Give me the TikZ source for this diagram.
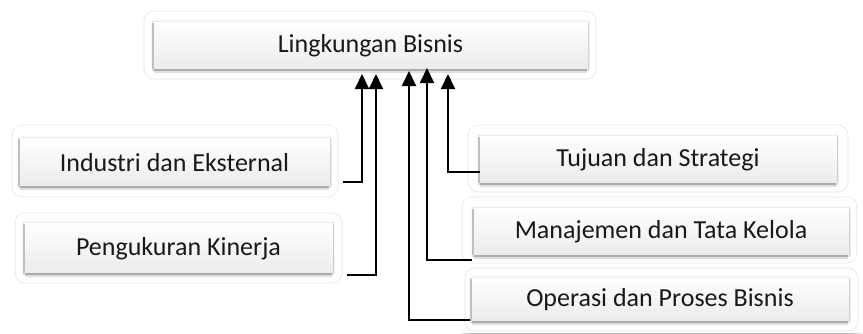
\documentclass[tikz,border=0pt]{standalone}
\usepackage{fontspec}
\setmainfont{Carlito}
\usetikzlibrary{arrows.meta,backgrounds}
\newcommand\glowbox[1]{%
  \foreach \k in {1,2,...,6}{%
    \fill[black,opacity=0.05,rounded corners=12pt]
      ([shift={({-\k*1pt},{\k*1pt-1pt})}]#1.north west) rectangle
      ([shift={({\k*1pt},{-\k*1pt-3pt})}]#1.south east);}}
\newcommand\bevel[1]{%
  \draw[gray!65,line width=2.2pt] ([shift={(2pt,1pt)}]#1.south west) -- ([shift={(-2pt,1pt)}]#1.south east);
  \draw[gray!25,line width=2pt] ([shift={(2pt,-1pt)}]#1.south west) -- ([shift={(-2pt,-1pt)}]#1.south east);
  \draw[gray!50,line width=1.8pt] ([shift={(0.9pt,2pt)}]#1.south west) -- ([shift={(0.9pt,-2pt)}]#1.north west);
  \draw[gray!35,line width=1.2pt] ([shift={(-0.6pt,2pt)}]#1.south east) -- ([shift={(-0.6pt,-2pt)}]#1.north east);}
\begin{document}
\begin{tikzpicture}[x=1pt,y=-1pt,
  outerbox/.style={draw=gray!20,line width=0.6pt,fill=white,rounded corners=10pt,inner sep=0pt},
  innerbox/.style={top color=white,bottom color=gray!16,draw=gray!35,line width=0.5pt,
    rounded corners=2pt,inner sep=0pt,font=\fontsize{26}{30}\selectfont,text=black!90},
  arr/.style={line width=2pt,-{Triangle[width=14pt,length=15pt]}}]
\useasboundingbox[fill=white] (0,0) rectangle (863,333);
% outer boxes
\node[outerbox,minimum width=452pt,minimum height=68pt] (top) at (370,45) {};
\node[outerbox,minimum width=326pt,minimum height=72pt] (ind) at (175,161) {};
\node[outerbox,minimum width=327pt,minimum height=70pt] (pen) at (178.5,248) {};
\node[outerbox,minimum width=380pt,minimum height=67pt] (tuj) at (658,158.5) {};
\node[outerbox,minimum width=395pt,minimum height=66pt] (man) at (659.5,230) {};
\node[outerbox,minimum width=393pt,minimum height=63pt] (ope) at (661.5,299.5) {};
\begin{scope}[on background layer]
  \glowbox{top}\glowbox{ind}\glowbox{pen}\glowbox{tuj}\glowbox{man}\glowbox{ope}
\end{scope}
% inner boxes
\node[innerbox,minimum width=437pt,minimum height=50pt] (topi) at (370.5,46) {Lingkungan Bisnis};
\node[innerbox,minimum width=313pt,minimum height=51pt] (indi) at (174.5,162.5) {Industri dan Eksternal};
\node[innerbox,minimum width=311pt,minimum height=53pt] (peni) at (178.5,248.5) {Pengukuran Kinerja};
\node[innerbox,minimum width=360pt,minimum height=50pt] (tuji) at (658,160) {Tujuan dan Strategi};
\node[innerbox,minimum width=378pt,minimum height=50pt] (mani) at (661,232) {Manajemen dan Tata Kelola};
\node[innerbox,minimum width=380pt,minimum height=46pt] (opei) at (660,300) {Operasi dan Proses Bisnis};
\bevel{topi}\bevel{indi}\bevel{peni}\bevel{tuji}\bevel{mani}\bevel{opei}
% arrow tips
\coordinate (tA) at (362,74);
\coordinate (tB) at (376,74);
\coordinate (tC) at (409,71);
\coordinate (tD) at (427,68);
\coordinate (tE) at (448,74);
% connectors
\draw[arr] ([xshift=5pt]ind.east |- 0,182) -| (tA);
\draw[arr] ([xshift=5pt]pen.east |- 0,275) -| (tB);
\draw[arr] ([xshift=2pt]tuji.west |- 0,172) -| (tE);
\draw[arr] (mani.west |- 0,260) -| (tD);
\draw[arr] (opei.west |- 0,320) -| (tC);
\end{tikzpicture}
\end{document}
